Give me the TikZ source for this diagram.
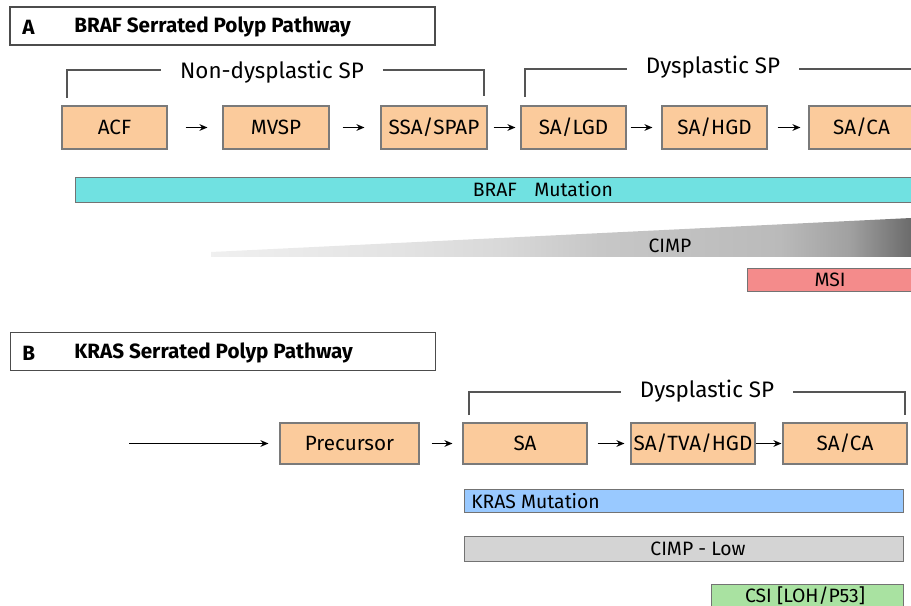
\documentclass[tikz,border=0pt]{standalone}
\usepackage{fontspec}
\setmainfont{Fira Sans}
\usetikzlibrary{arrows.meta}
\definecolor{peach}{HTML}{FBCB9C}
\definecolor{boxline}{HTML}{7A7A7A}
\definecolor{braf}{HTML}{70E1E1}
\definecolor{msi}{HTML}{F48B8B}
\definecolor{kras}{HTML}{99C9FF}
\definecolor{cimplow}{HTML}{D4D4D4}
\definecolor{csi}{HTML}{A9E2A1}
\definecolor{brk}{HTML}{555555}
\pgfdeclarehorizontalshading{cimpshade}{100bp}{color(0bp)=(white!94!black); color(25bp)=(white!94!black); color(38.5bp)=(white!89!black); color(45.6bp)=(white!85!black); color(52.8bp)=(white!78!black); color(65.6bp)=(white!73!black); color(70.6bp)=(white!63!black); color(75bp)=(white!42!black); color(100bp)=(white!42!black)}
\tikzset{
  stagebox/.style={draw=boxline, line width=0.8pt, fill=peach, minimum height=32.25pt, inner sep=0pt, font=\fontsize{15.5}{17}\selectfont},
  stageboxB/.style={stagebox, minimum height=30.75pt},
  hdr/.style={draw=black!70, line width=0.8pt, fill=white, minimum width=318.75pt, minimum height=28.5pt, inner sep=0pt},
  hdrtext/.style={anchor=west, inner sep=0pt, font=\fontsize{15.5}{17}\selectfont\bfseries},
  bar/.style={draw=black!55, line width=0.6pt, inner sep=0pt},
  bartext/.style={inner sep=0pt, font=\fontsize{14.5}{16}\selectfont},
  brktext/.style={inner sep=0pt, font=\fontsize{16.8}{19}\selectfont},
  brkline/.style={draw=brk, line width=0.8pt},
  arr/.style={-{Stealth[length=6pt,width=5pt]}, line width=0.9pt, black}
}
\begin{document}
\begin{tikzpicture}[x=0.75pt,y=-0.75pt]
\useasboundingbox (0,0) rectangle (911,606);
\clip (0,0) rectangle (911,606);
% ---------- Panel A ----------
\node[hdr] (hdrA) at (222.5,26) {};
\node[hdrtext] (labA) at (22,27) {A};
\node[hdrtext] (titA) at (74,27) {BRAF Serrated Polyp Pathway};

\node[stagebox, minimum width=78.75pt] (acf) at (114.5,127.5) {ACF};
\node[stagebox, minimum width=79.5pt] (mvsp) at (276,127.5) {MVSP};
\node[stagebox, minimum width=79.5pt] (ssa) at (434,127.5) {SSA/SPAP};
\node[stagebox, minimum width=78.75pt] (lgd) at (573.5,127.5) {SA/LGD};
\node[stagebox, minimum width=78.75pt] (hgd) at (714.5,127.5) {SA/HGD};
\node[stagebox, minimum width=78.75pt] (caA) at (861.5,127.5) {SA/CA};

\draw[arr, shorten <=13.5pt, shorten >=11.25pt] (acf) -- (mvsp);
\draw[arr, shorten <=9.75pt, shorten >=12pt] (mvsp) -- (ssa);
\draw[arr, shorten <=4.5pt, shorten >=3.75pt] (ssa) -- (lgd);
\draw[arr, shorten <=3pt, shorten >=6.75pt] (lgd) -- (hgd);
\draw[arr, shorten <=7.5pt, shorten >=6pt] (hgd) -- (caA);

% brackets
\node[brktext] (ndsp) at (272,72) {Non-dysplastic SP};
\coordinate (nd1) at (67,98);
\coordinate (nd2) at (67,70);
\coordinate (nd3) at (484,70);
\coordinate (nd4) at (484,96);
\draw[brkline] (nd1) -- (nd2) -- ([xshift=-14pt]ndsp.west |- nd2);
\draw[brkline] ([xshift=14pt]ndsp.east |- nd3) -- (nd3) -- (nd4);
\node[brktext] (dspA) at (713,67) {Dysplastic SP};
\coordinate (da1) at (525,97);
\coordinate (da2) at (525,69);
\coordinate (da3) at (920,69);
\draw[brkline] (da1) -- (da2) -- ([xshift=-14pt]dspA.west |- da2);
\draw[brkline] ([xshift=14pt]dspA.east |- da3) -- (da3);

% BRAF bar
\node[bar, fill=braf, minimum width=636pt, minimum height=18.75pt] (brafbar) at (499,189.5) {};
\node[bartext] (braftxt) at (543,189.5) {BRAF\hspace{0.9em}Mutation};

% CIMP wedge
\coordinate (w1) at (211,252);
\coordinate (w2) at (911,218);
\coordinate (w3) at (911,257);
\coordinate (w4) at (211,257);
\shade[shading=cimpshade] (w1) -- (w2) -- (w3) -- (w4) -- cycle;
\node[bartext] (cimptxt) at (670,245.5) {CIMP};

% MSI bar
\node[bar, fill=msi, minimum width=127pt, minimum height=17.25pt] (msibar) at (832.5,279.5) {};
\node[bartext] (msitxt) at (830,280) {MSI};

% ---------- Panel B ----------
\node[hdr] (hdrB) at (223,351.5) {};
\node[hdrtext] (labB) at (22,353) {B};
\node[hdrtext] (titB) at (74,353) {KRAS Serrated Polyp Pathway};

\coordinate (start) at (129,443.5);
\node[stageboxB, minimum width=104.25pt] (prec) at (349.5,443.5) {Precursor};
\node[stageboxB, minimum width=93pt] (saB) at (525,443.5) {SA};
\node[stageboxB, minimum width=93pt] (tva) at (693,443.5) {SA/TVA/HGD};
\node[stageboxB, minimum width=93pt] (caB) at (845,443.5) {SA/CA};

\draw[arr, shorten >=8.25pt] (start) -- (prec);
\draw[arr, shorten <=9pt, shorten >=7.5pt] (prec) -- (saB);
\draw[arr, shorten <=7.5pt, shorten >=4.5pt] (saB) -- (tva);
\draw[arr, shorten <=0pt, shorten >=0.75pt] (tva) -- (caB);

\node[brktext] (dspB) at (707,391) {Dysplastic SP};
\coordinate (db1) at (469,415);
\coordinate (db2) at (469,392);
\coordinate (db3) at (905,392);
\coordinate (db4) at (905,415);
\draw[brkline] (db1) -- (db2) -- ([xshift=-14pt]dspB.west |- db2);
\draw[brkline] ([xshift=14pt]dspB.east |- db3) -- (db3) -- (db4);

\node[bar, fill=kras, minimum width=329.25pt, minimum height=17.25pt] (krasbar) at (683.5,500.5) {};
\node[bartext, anchor=west] (krastxt) at (471,501) {KRAS Mutation};

\node[bar, fill=cimplow, minimum width=329.25pt, minimum height=18.75pt] (lowbar) at (683.5,548.5) {};
\node[bartext] (lowtxt) at (698,549) {CIMP - Low};

\node[bar, fill=csi, minimum width=144pt, minimum height=23.25pt] (csibar) at (807,599.5) {};
\node[bartext] (csitxt) at (805,596) {CSI [LOH/P53]};
\end{tikzpicture}
\end{document}
